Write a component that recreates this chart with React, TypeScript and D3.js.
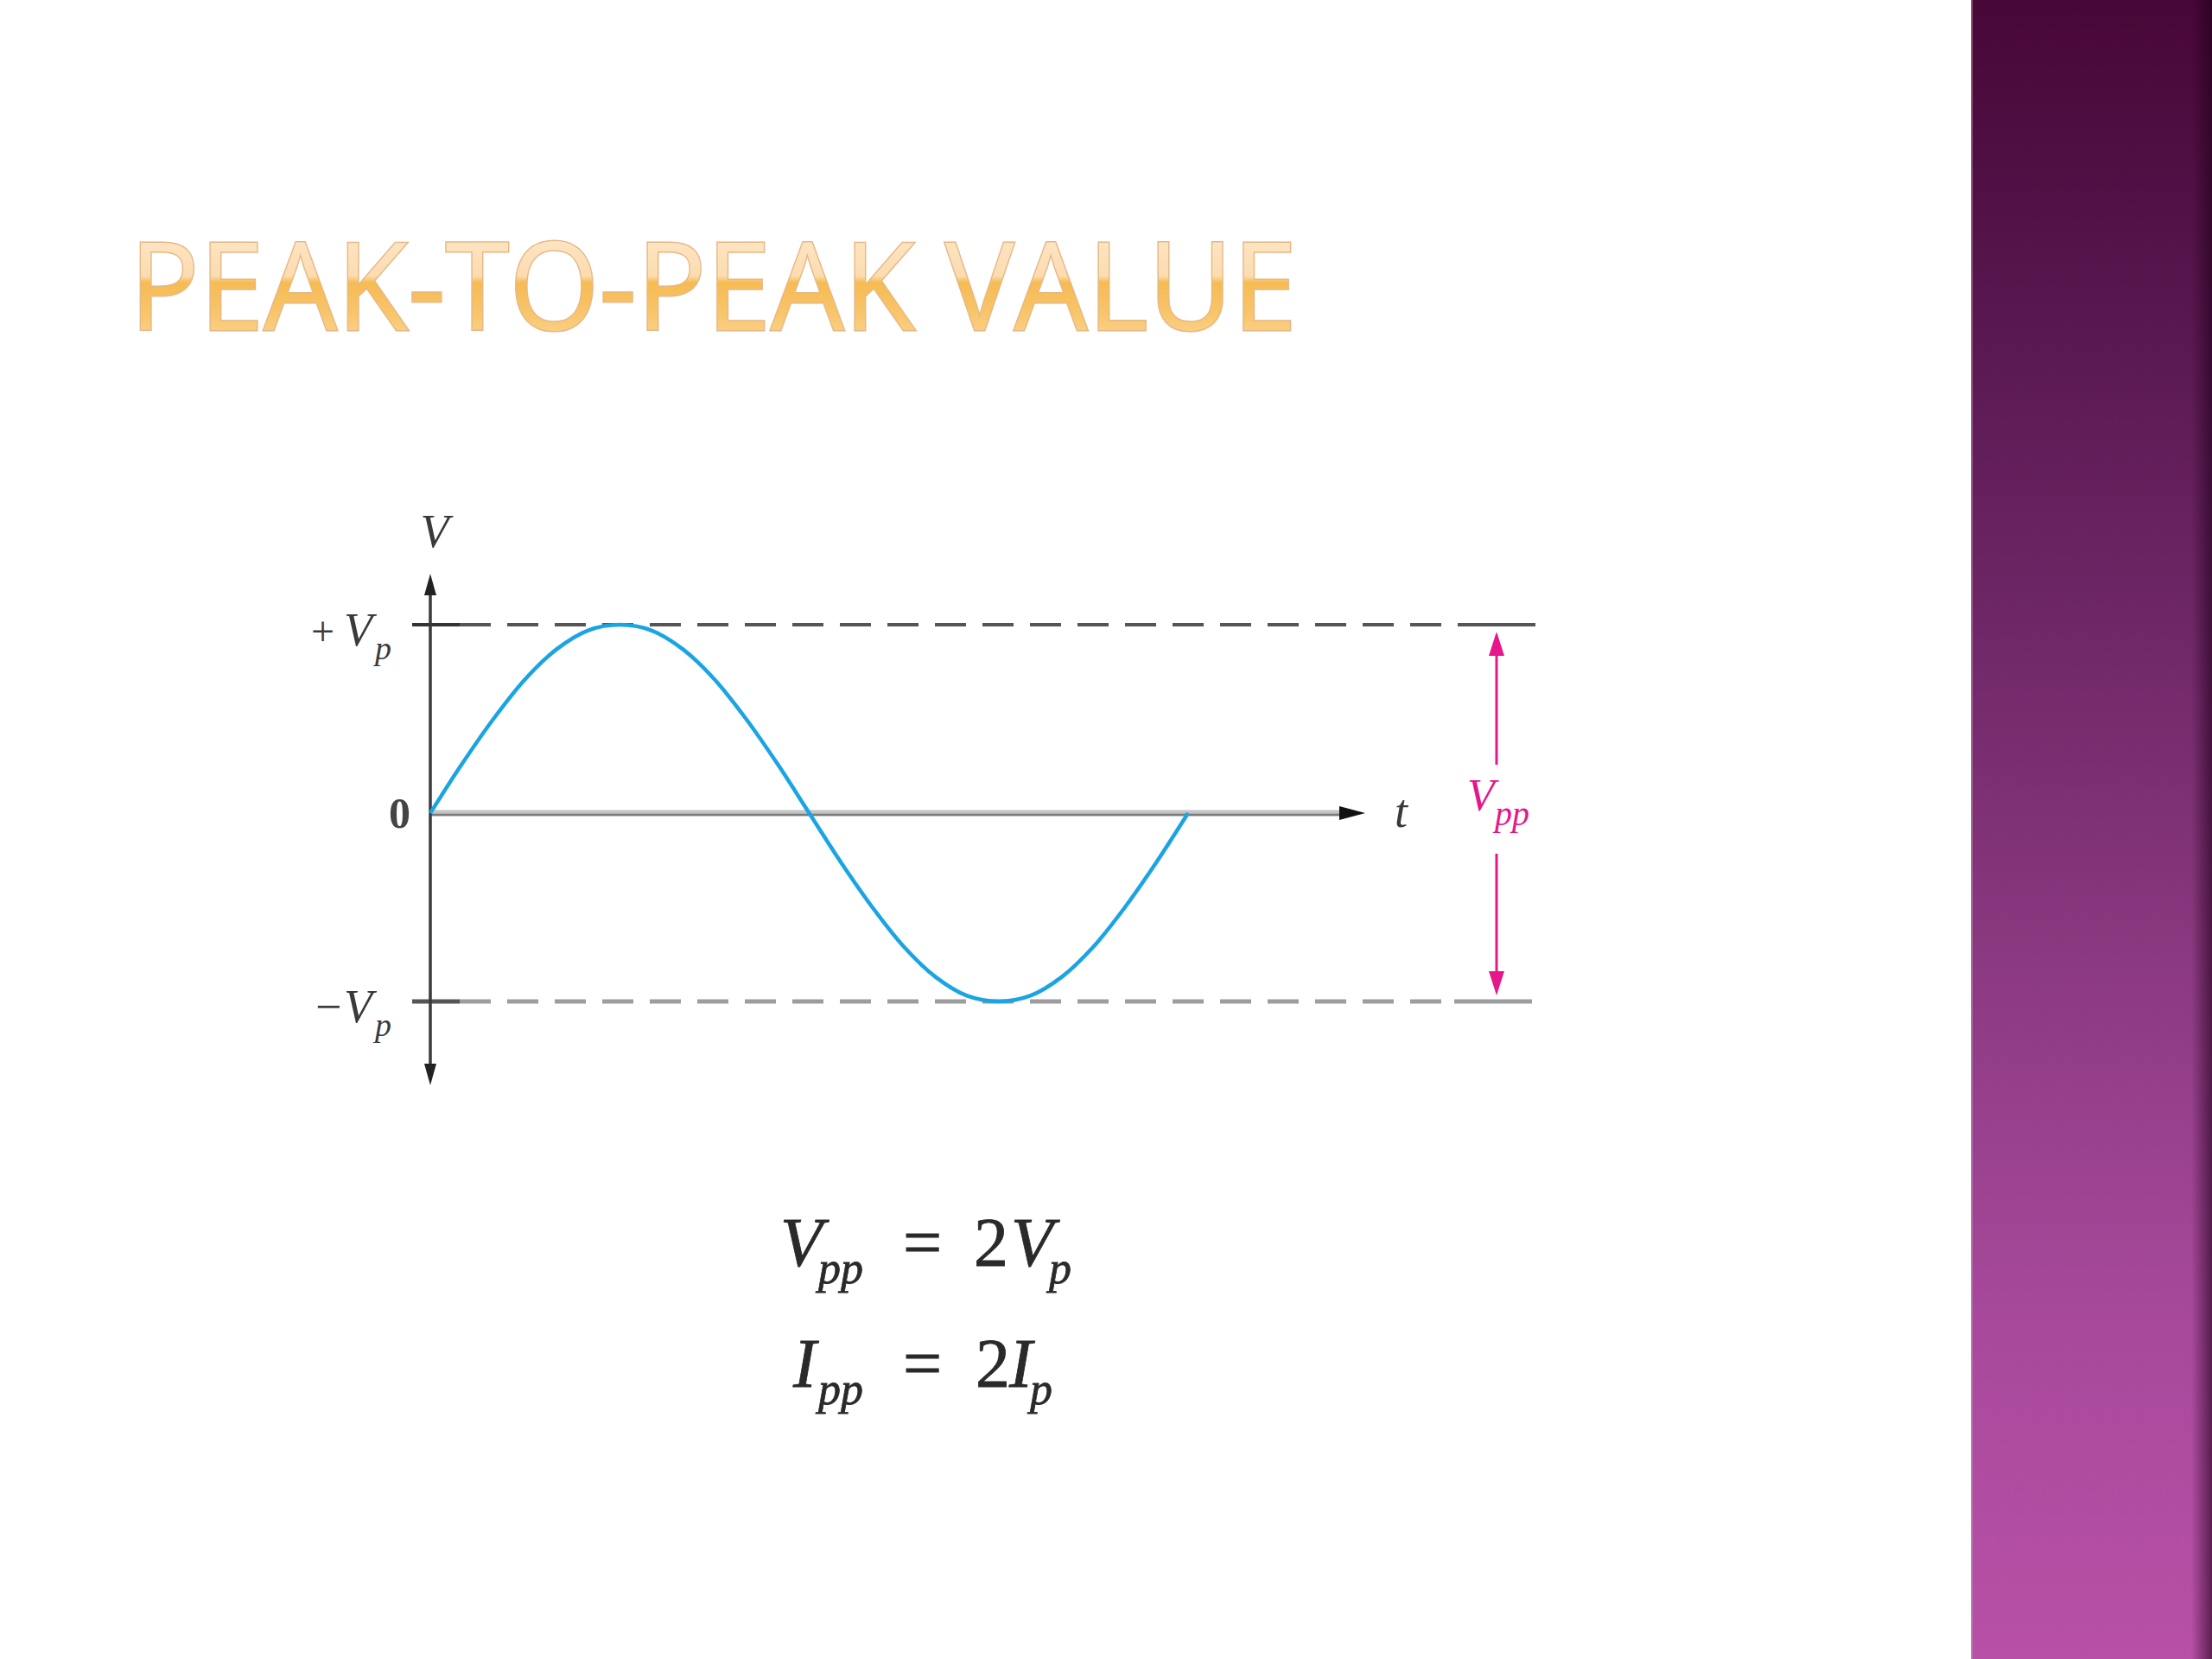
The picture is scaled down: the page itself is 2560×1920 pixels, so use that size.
import React from "react";
import * as d3 from "d3";

// ---- data ----
const titleText = "PEAK-TO-PEAK VALUE";
const phaseDeg = [0, 15, 30, 45, 60, 75, 90, 105, 120, 135, 150, 165, 180, 195, 210, 225, 240, 255, 270, 285, 300, 315, 330, 345, 360];
const voltage = [0, 0.26, 0.5, 0.71, 0.87, 0.97, 1, 0.97, 0.87, 0.71, 0.5, 0.26, 0, -0.26, -0.5, -0.71, -0.87, -0.97, -1, -0.97, -0.87, -0.71, -0.5, -0.26, 0];
const levelValues = [1, 0, -1];
const levelLabels = ["+ V", "0", "\u2212V"];

const W = 2560;
const H = 1920;

export default function App() {
  const x = d3.scaleLinear().domain([0, 360]).range([498, 1375]);
  const y = d3.scaleLinear().domain([-1, 1]).range([1159, 723]);
  const pts: [number, number][] = phaseDeg.map((d, i) => [d, voltage[i]]);
  const line = d3
    .line<[number, number]>()
    .x((d) => x(d[0]))
    .y((d) => y(d[1]))
    .curve(d3.curveCatmullRom);

  const ax = x(0);
  const y0 = y(0);
  const yTop = y(1);
  const yBot = y(-1);
  const tTip = 1580;
  const yAxTop = 664;
  const yAxBot = 1256;
  const pinkX = 1732;
  const serif = "'Liberation Serif', 'Times New Roman', serif";
  const pink = "#e5178a";

  return (
    <svg
      width={W}
      height={H}
      viewBox={`0 0 ${W} ${H}`}
      style={{ position: "absolute", left: 0, top: 0, display: "block" }}
    >
      <defs>
        <linearGradient id="titleGrad" x1="0" y1="0" x2="0" y2="1">
          <stop offset="0" stopColor="#feedd6" />
          <stop offset="0.46" stopColor="#fcdcb0" />
          <stop offset="0.5" stopColor="#f6bb52" />
          <stop offset="0.7" stopColor="#f8c66e" />
          <stop offset="1" stopColor="#fde2b8" />
        </linearGradient>
        <linearGradient id="panelGrad" x1="0" y1="0" x2="0" y2="1">
          <stop offset="0" stopColor="#470737" />
          <stop offset="0.2" stopColor="#591850" />
          <stop offset="0.4" stopColor="#72296a" />
          <stop offset="0.6" stopColor="#8e3b83" />
          <stop offset="0.8" stopColor="#a8499c" />
          <stop offset="1" stopColor="#b750a6" />
        </linearGradient>
        <linearGradient id="shadowGrad" x1="0" y1="0" x2="1" y2="0">
          <stop offset="0" stopColor="#1e0018" stopOpacity="0" />
          <stop offset="1" stopColor="#1e0018" stopOpacity="0.6" />
        </linearGradient>
      </defs>

      <rect x={0} y={0} width={W} height={H} fill="#ffffff" />

      {/* purple side panel */}
      <rect x={2281} y={0} width={W - 2281} height={H} fill="url(#panelGrad)" />
      <rect x={2536} y={0} width={24} height={H} fill="url(#shadowGrad)" />
      <line x1={2282} y1={0} x2={2282} y2={H} stroke="#c9a6c2" strokeOpacity={0.5} strokeWidth={2} />

      {/* title */}
      <text
        x={150}
        y={382}
        fontFamily="'Open Sans', 'Noto Sans', sans-serif"
        fontWeight={400}
        fontSize={141}
        fill="url(#titleGrad)"
        stroke="#e6b886"
        strokeWidth={3}
        paintOrder="stroke"
        textLength={1351}
        lengthAdjust="spacingAndGlyphs"
      >
        {titleText}
      </text>

      {/* dashed peak lines */}
      <line x1={532} y1={yTop} x2={1688} y2={yTop} stroke="#555" strokeWidth={4} strokeDasharray="36 19" />
      <line x1={477} y1={yTop} x2={532} y2={yTop} stroke="#333" strokeWidth={4} />
      <line x1={1688} y1={yTop} x2={1777} y2={yTop} stroke="#555" strokeWidth={4} />
      <line x1={532} y1={yBot} x2={1683} y2={yBot} stroke="#9d9d9d" strokeWidth={5} strokeDasharray="36 19" />
      <line x1={477} y1={yBot} x2={532} y2={yBot} stroke="#555" strokeWidth={5} />
      <line x1={1683} y1={yBot} x2={1773} y2={yBot} stroke="#9d9d9d" strokeWidth={5} />

      {/* t axis */}
      <line x1={ax} y1={y0} x2={tTip - 28} y2={y0} stroke="#c4c4c4" strokeWidth={7} />
      <line x1={ax} y1={y0 + 2} x2={tTip - 28} y2={y0 + 2} stroke="#7a7a7a" strokeWidth={2.5} />
      <path d={`M${tTip},${y0} L${tTip - 30},${y0 - 8} L${tTip - 30},${y0 + 8} Z`} fill="#111" />

      {/* V axis */}
      <line x1={ax} y1={yAxTop + 20} x2={ax} y2={yAxBot - 20} stroke="#3a3a3a" strokeWidth={3.5} />
      <path d={`M${ax},${yAxTop} L${ax - 7},${yAxTop + 25} L${ax + 7},${yAxTop + 25} Z`} fill="#222" />
      <path d={`M${ax},${yAxBot} L${ax - 7},${yAxBot - 25} L${ax + 7},${yAxBot - 25} Z`} fill="#222" />

      {/* sine wave */}
      <path d={line(pts) || ""} fill="none" stroke="#1ba4e4" strokeWidth={4.5} strokeLinejoin="round" />

      {/* axis labels */}
      <text x={503} y={633} textAnchor="middle" fontFamily={serif} fontStyle="italic" fontSize={54} fill="#3a3a3a">
        V
      </text>
      <text x={1614} y={957} fontFamily={serif} fontStyle="italic" fontSize={54} fill="#3a3a3a">
        t
      </text>

      {/* level labels */}
      {levelValues.map((v, i) => {
        const yy = y(v);
        if (v === 0) {
          return (
            <text key={i} x={475} y={yy + 17} textAnchor="end" fontFamily={serif} fontWeight={700} fontSize={50} fill="#444">
              {levelLabels[i]}
            </text>
          );
        }
        return (
          <text key={i} y={yy + 24} fontFamily={serif} fontSize={54} fill="#3a3a3a">
            <tspan x={v > 0 ? 360 : 365} fontStyle="normal" fontSize={v > 0 ? 48 : 54}>
              {levelLabels[i].charAt(0)}
            </tspan>
            <tspan x={398} fontStyle="italic">V</tspan>
            <tspan x={434} dy={16} fontStyle="italic" fontSize={38}>p</tspan>
          </text>
        );
      })}

      {/* Vpp dimension arrow */}
      <line x1={pinkX} y1={yTop + 30} x2={pinkX} y2={885} stroke={pink} strokeWidth={3} />
      <line x1={pinkX} y1={988} x2={pinkX} y2={yBot - 30} stroke={pink} strokeWidth={3} />
      <path d={`M${pinkX},${yTop + 8} L${pinkX - 9},${yTop + 36} L${pinkX + 9},${yTop + 36} Z`} fill={pink} />
      <path d={`M${pinkX},${yBot - 7} L${pinkX - 9},${yBot - 35} L${pinkX + 9},${yBot - 35} Z`} fill={pink} />
      <text y={938} fontFamily={serif} fontStyle="italic" fontSize={52} fill={pink}>
        <tspan x={1698}>V</tspan>
        <tspan x={1730} dy={17} fontSize={40}>pp</tspan>
      </text>

      {/* formulas */}
      <g fontFamily={serif} fill="#2a2a2a" fontSize={80} stroke="#2a2a2a" strokeWidth={0.8}>
        <text y={1465}>
          <tspan x={903} fontStyle="italic">V</tspan>
          <tspan x={947} dy={20} fontStyle="italic" fontSize={52}>pp</tspan>
          <tspan x={1045} dy={-20}>=</tspan>
          <tspan x={1127}>2</tspan>
          <tspan x={1170} fontStyle="italic">V</tspan>
          <tspan x={1214} dy={20} fontStyle="italic" fontSize={52}>p</tspan>
        </text>
        <text y={1605}>
          <tspan x={918} fontStyle="italic">I</tspan>
          <tspan x={947} dy={20} fontStyle="italic" fontSize={52}>pp</tspan>
          <tspan x={1045} dy={-20}>=</tspan>
          <tspan x={1129}>2</tspan>
          <tspan x={1168} fontStyle="italic">I</tspan>
          <tspan x={1192} dy={20} fontStyle="italic" fontSize={52}>p</tspan>
        </text>
      </g>
    </svg>
  );
}
